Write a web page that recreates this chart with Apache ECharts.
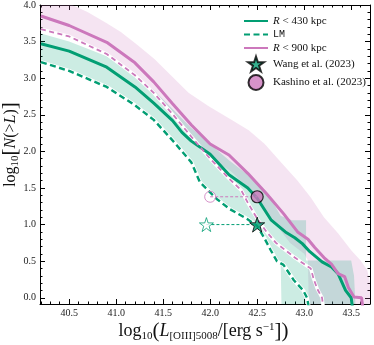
<!DOCTYPE html>
<html>
<head>
<meta charset="utf-8">
<script src="https://cdn.jsdelivr.net/npm/echarts@6/dist/echarts.min.js"></script>
<style>
html, body { margin: 0; padding: 0; background: #fff; }
#main { width: 374px; height: 345px; }
</style>
</head>
<body>
<div id="main"></div>
<script>
// tick labels
var xMajor = [40.5, 41.0, 41.5, 42.0, 42.5, 43.0, 43.5]
var yMajor = [0, 0.5, 1.0, 1.5, 2.0, 2.5, 3.0, 3.5, 4.0]

// R < 430 kpc (solid green)
var r430 = [[40.2, 3.47], [40.5, 3.37], [40.9, 3.15], [41.2, 2.88], [41.4, 2.66], [41.6, 2.42],
  [41.7, 2.26], [41.8, 2.14], [42.0, 1.96], [42.2, 1.68], [42.4, 1.5], [42.5, 1.36], [42.65, 1.06],
  [42.8, 0.9], [42.9, 0.82], [42.98, 0.74], [43.06, 0.63], [43.19, 0.49], [43.29, 0.42],
  [43.36, 0.33], [43.44, 0.1], [43.5, 0.0], [43.52, -0.2]]
// LM (dashed green)
var lm = [[40.2, 3.22], [40.5, 3.1], [40.9, 2.88], [41.2, 2.63], [41.4, 2.43], [41.6, 2.15],
  [41.8, 1.85], [41.89, 1.58], [42.07, 1.35], [42.21, 1.21], [42.39, 1.08], [42.5, 0.98],
  [42.57, 0.83], [42.64, 0.66], [42.71, 0.5], [42.78, 0.45], [42.89, 0.24], [42.99, 0.1],
  [43.03, 0.0], [43.06, -0.2]]
// R < 900 kpc (solid pink)
var r900 = [[40.2, 3.85], [40.5, 3.72], [40.9, 3.49], [41.2, 3.21], [41.4, 2.95], [41.6, 2.65],
  [41.8, 2.36], [42.0, 2.1], [42.2, 1.95], [42.4, 1.7], [42.6, 1.42], [42.78, 1.15], [42.93, 0.9],
  [43.04, 0.8], [43.11, 0.69], [43.21, 0.55], [43.29, 0.46], [43.36, 0.33], [43.43, 0.29],
  [43.47, 0.14], [43.53, 0.01], [43.61, 0.0], [43.63, -0.2]]
// R < 900 kpc, LM (dashed pink)
var r900lm = [[40.2, 3.67], [40.5, 3.57], [40.9, 3.33], [41.2, 3.04], [41.4, 2.8], [41.6, 2.51],
  [41.8, 2.2], [42.0, 1.9], [42.2, 1.63], [42.33, 1.47], [42.4, 1.3], [42.5, 1.08], [42.6, 0.9],
  [42.7, 0.75], [42.8, 0.65], [42.9, 0.55], [43.0, 0.46], [43.07, 0.4], [43.1, 0.26],
  [43.14, 0.12], [43.19, 0.0], [43.21, -0.2]]

// shaded ranges
var greenUpper = [[40.2, 3.61], [40.5, 3.5], [40.9, 3.3], [41.2, 3.03], [41.4, 2.84], [41.6, 2.58],
  [41.8, 2.32], [42.0, 2.1], [42.2, 1.88], [42.4, 1.68], [42.6, 1.45], [42.75, 1.12], [42.87, 1.06],
  [43.02, 1.06], [43.02, 0.51], [43.5, 0.51], [43.53, 0.3], [43.55, -0.2]]
var greenLower = [[40.2, 3.22], [40.5, 3.1], [40.9, 2.88], [41.2, 2.63], [41.4, 2.43], [41.6, 2.15],
  [41.8, 1.85], [41.89, 1.58], [42.07, 1.35], [42.21, 1.21], [42.39, 1.08], [42.5, 0.98],
  [42.57, 0.83], [42.64, 0.66], [42.71, 0.49], [42.75, 0.47], [42.76, -0.2]]
var pinkUpper = [[40.2, 4.15], [40.5, 4.02], [40.7, 3.9], [40.9, 3.75], [41.05, 3.63], [41.23, 3.45],
  [41.41, 3.26], [41.59, 3.03], [41.77, 2.8], [41.98, 2.62], [42.23, 2.43], [42.41, 2.29],
  [42.58, 2.1], [42.76, 1.84], [42.93, 1.6], [43.07, 1.37], [43.21, 1.1], [43.36, 0.88],
  [43.5, 0.65], [43.6, 0.51], [43.67, 0.38], [43.71, 0.15], [43.72, -0.2]]
var pinkLower = [[40.2, 3.67], [40.5, 3.57], [40.9, 3.33], [41.2, 3.04], [41.4, 2.8], [41.6, 2.51],
  [41.8, 2.2], [41.88, 2.06], [42.05, 1.88], [42.23, 1.72], [42.41, 1.49], [42.58, 1.19],
  [42.7, 1.0], [42.85, 0.75], [43.0, 0.6], [43.04, 0.51], [43.05, -0.2]]

// observations
var wang = [[42.5, 1.0]]
var wangOld = [[41.96, 1.0]]
var kashino = [[42.5, 1.38]]
var kashinoOld = [[42.0, 1.38]]

var green = '#029e73'
var pink = '#cc78bc'
var serif = 'Liberation Serif'
var star = 'path://M50,0 L61.8,35.1 L98.9,35.1 L68.9,56.7 L80.2,91.9 L50,70.2 L19.8,91.9 L31.1,56.7 L1.1,35.1 L38.2,35.1 Z'

// minor ticks every 0.1
var xMinor = []
for (var i = 402; i <= 437; i++) { if (i % 5 !== 0) xMinor.push(i / 10) }
var yMinor = []
for (var j = 0; j <= 40; j++) { if (j % 5 !== 0) yMinor.push(j / 10) }

var xMin = 40.19, xMax = 43.7, yMin = -0.085, yMax = 4.0

function xAx (pos, ticks, len, labels, line) {
  return {
    type: 'value', position: pos, min: xMin, max: xMax,
    axisLine: { show: line, onZero: false, lineStyle: { color: '#000', width: 1 } },
    axisTick: { show: true, inside: true, length: len, customValues: ticks, lineStyle: { color: '#000', width: 1 } },
    axisLabel: { show: labels, customValues: ticks, margin: 4, fontFamily: serif, fontSize: 10, color: '#222',
      formatter: function (v) { return v.toFixed(1) } },
    splitLine: { show: false }
  }
}
function yAx (pos, ticks, len, labels, line) {
  return {
    type: 'value', position: pos, min: yMin, max: yMax,
    axisLine: { show: line, onZero: false, lineStyle: { color: '#000', width: 1 } },
    axisTick: { show: true, inside: true, length: len, customValues: ticks, lineStyle: { color: '#000', width: 1 } },
    axisLabel: { show: labels, customValues: ticks, margin: 4, fontFamily: serif, fontSize: 10, color: '#222',
      formatter: function (v) { return v.toFixed(1) } },
    splitLine: { show: false }
  }
}

function band (name, pts, color) {
  return {
    type: 'custom', name: name, clip: true, silent: true, z: 1,
    data: pts,
    renderItem: function (params, api) {
      if (params.dataIndex !== 0) return null
      return {
        type: 'polygon',
        shape: { points: pts.map(function (p) { return api.coord(p) }) },
        style: { fill: color, opacity: 0.2 }
      }
    }
  }
}

function line (name, data, color, width, type, z) {
  return {
    type: 'line', name: name, data: data, symbol: 'none', z: z, silent: true,
    lineStyle: { color: color, width: width, type: type }, itemStyle: { color: color }
  }
}

var xa = xAx('bottom', xMajor, 5, true, true)
xa.name = '{t|log}{s|10}{p|(}{i|L}{s|[OIII]5008}{t|/[erg s}{u|−1}{p|])}'
xa.nameLocation = 'middle'
xa.nameGap = 17
xa.nameMoveOverlap = false
xa.nameTextStyle = {
  fontFamily: serif, fontSize: 18, color: '#111', padding: [0, 3, 0, 0],
  rich: {
    t: { fontFamily: serif, fontSize: 18 },
    p: { fontFamily: serif, fontSize: 21 },
    i: { fontFamily: serif, fontSize: 18, fontStyle: 'italic' },
    s: { fontFamily: serif, fontSize: 11, padding: [9, 0, 0, 0] },
    u: { fontFamily: serif, fontSize: 11, padding: [0, 0, 9, 0] }
  }
}
var ya = yAx('left', yMajor, 5, true, true)
ya.name = '{t|log}{s|10}{p|[}{i|N}{t|(>}{i|L}{t|)}{p|]}'
ya.nameLocation = 'middle'
ya.nameGap = 19
ya.nameMoveOverlap = false
ya.nameTextStyle = {
  fontFamily: serif, fontSize: 16, color: '#111', padding: [0, 0, 0, 20],
  rich: {
    t: { fontFamily: serif, fontSize: 16 },
    p: { fontFamily: serif, fontSize: 21 },
    i: { fontFamily: serif, fontSize: 16, fontStyle: 'italic' },
    s: { fontFamily: serif, fontSize: 11, padding: [9, 0, 0, 0] }
  }
}

var legendText = {
  'R430': '{i|R} < 430{t| kpc}',
  'LM': '{m|LM}',
  'R900': '{i|R} < 900{t| kpc}',
  'Wang': 'Wang et al. (2023)',
  'Kashino': 'Kashino et al. (2023)'
}
var noDot = { opacity: 0 }

var option = {
  animation: false,
  grid: { left: 40, right: 4, top: 5, bottom: 41, containLabel: false, outerBoundsMode: 'none' },
  xAxis: [xa, xAx('bottom', xMinor, 2.5, false, false), xAx('top', xMajor, 5, false, true), xAx('top', xMinor, 2.5, false, false)],
  yAxis: [ya, yAx('left', yMinor, 2.5, false, false), yAx('right', yMajor, 5, false, true), yAx('right', yMinor, 2.5, false, false)],
  legend: {
    orient: 'vertical', left: 238, top: 10, itemWidth: 24, itemHeight: 15, itemGap: 1.5,
    data: [
      { name: 'R430', itemStyle: noDot },
      { name: 'LM', itemStyle: noDot },
      { name: 'R900', itemStyle: noDot },
      'Wang', 'Kashino'
    ],
    formatter: function (n) { return legendText[n] },
    textStyle: {
      fontFamily: serif, fontSize: 11, color: '#111',
      rich: {
        i: { fontFamily: serif, fontSize: 11, fontStyle: 'italic' },
        t: { fontFamily: serif, fontSize: 11 },
        m: { fontFamily: 'Liberation Mono', fontSize: 10 }
      }
    }
  },
  series: [
    band('pinkBand', pinkUpper.concat(pinkLower.slice().reverse()), pink),
    band('greenBand', greenUpper.concat(greenLower.slice().reverse()), green),
    line('lmEdge', lm, '#fff', 4, 'solid', 3),
    line('r900lmEdge', r900lm, '#fff', 3.5, 'solid', 3),
    line('R430', r430, green, 3, 'solid', 4),
    line('LM', lm, green, 2.4, [6, 3.5], 4),
    line('R900', r900, pink, 3, 'solid', 4),
    line('R900LM', r900lm, pink, 1.8, [5, 3.5], 4),
    line('wangLink', wangOld.concat(wang), green, 1, [3, 2], 5),
    line('kashinoLink', kashinoOld.concat(kashino), pink, 1, [3, 2], 5),
    { type: 'scatter', name: 'wangOld', data: wangOld, symbol: star, symbolSize: 14, z: 6,
      itemStyle: { color: '#fff', borderColor: green, borderWidth: 1 } },
    { type: 'scatter', name: 'kashinoOld', data: kashinoOld, symbol: 'circle', symbolSize: 11, z: 6,
      itemStyle: { color: 'rgba(255,255,255,0)', borderColor: pink, borderWidth: 1 } },
    { type: 'scatter', name: 'Wang', data: wang, symbol: star, symbolSize: 15, z: 7,
      itemStyle: { color: green, borderColor: '#000', borderWidth: 1 } },
    { type: 'scatter', name: 'Kashino', data: kashino, symbol: 'circle', symbolSize: 12, z: 7,
      itemStyle: { color: pink, borderColor: '#000', borderWidth: 1.2 } }
  ]
}

var myChart = echarts.init(document.getElementById('main'))
myChart.setOption(option)
</script>
</body>
</html>
